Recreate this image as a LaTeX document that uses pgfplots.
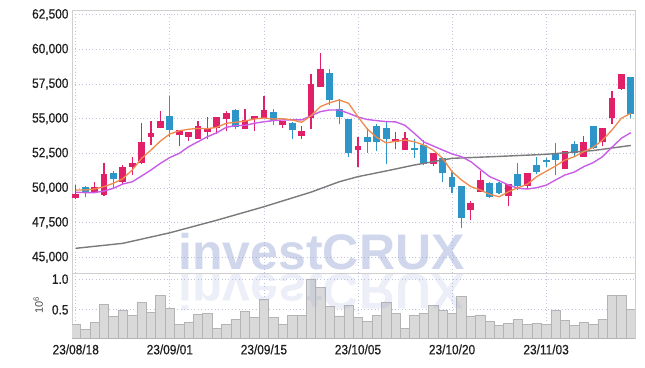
\documentclass[border=0pt]{standalone}
\usepackage{pgfplots}
\pgfplotsset{compat=1.18}
\usepackage{pgfplotstable}
\usepackage{fontspec}
\setmainfont{Liberation Sans}
\newfontfamily\tickfont{Liberation Sans}[FakeStretch=0.88, FakeBold=0.6]
\definecolor{cred}{HTML}{E2206A}
\definecolor{cblue}{HTML}{2E95C8}
\definecolor{corange}{HTML}{F08A4B}
\definecolor{cpurple}{HTML}{C95DE8}
\definecolor{cgray}{HTML}{7A7A7A}
\definecolor{gridc}{HTML}{BFC3DA}
\definecolor{framec}{HTML}{CFCFCF}
\definecolor{vfill}{HTML}{D9D9D9}
\definecolor{vdraw}{HTML}{B4B4B4}
\definecolor{wm}{HTML}{96A5D2}

% up candles: index open high low close
\pgfplotstableread{
i o h l c
0 49250 50250 49200 49550
2 49710 50410 49620 50000
3 49500 51780 49420 50940
5 50410 51660 50290 51490
6 51540 52210 50920 51800
7 51780 54710 51730 53250
8 53700 54860 53080 53920
9 54350 55580 54350 54760
11 53820 54180 53030 54110
12 53700 54020 53390 54020
13 53560 54830 53560 54400
14 54060 55100 53510 54310
15 54310 55050 53900 55050
16 54960 55580 54110 55340
18 54240 55680 54240 54830
19 55000 55170 54110 55170
20 55070 56640 55070 55560
22 54570 54860 54310 54780
24 53770 54500 53560 54040
25 55030 58200 54240 57430
26 57310 59760 57310 58510
30 52740 53700 51490 52980
34 53320 54060 52790 53510
35 52740 54060 52740 53540
38 51730 52500 51570 52500
42 48410 49080 47690 48850
43 49730 51250 49730 50510
46 49420 50270 48700 50270
48 50170 51010 49900 51010
52 51390 52650 51350 52600
54 52260 53730 52260 53250
56 53300 54310 53030 54260
57 55070 57000 54620 56420
58 57140 58220 57070 58150
}\up

% down candles: index open high low close
\pgfplotstableread{
i o h l c
1 50000 50140 49330 49620
4 51010 51250 49930 50650
10 55120 56620 53700 54180
17 55580 55680 54240 54380
21 55410 55700 54520 54810
23 54620 54760 53560 54180
27 58240 58600 55990 56330
28 55630 56400 54590 55150
29 54910 54910 52210 52550
31 53610 54310 52500 53320
32 54420 54620 52690 53340
33 54260 54740 51730 53540
36 52840 53510 52190 52760
37 53080 53460 51640 51710
39 52090 52260 50450 51100
40 50740 51180 49620 50090
41 50140 50140 47130 47860
44 50290 50410 49300 49370
45 50290 50450 49550 49660
47 50940 51780 49860 50140
49 51590 52260 50990 51180
50 51950 52190 51540 51900
51 52500 53230 50940 52040
53 53100 53390 52260 52500
55 54400 54400 52840 52890
59 57990 57990 55020 55330
}\down

% moving averages: a = 5-day, b = 10-day
\pgfplotstableread{
i a b
0 49856 49690
1 49856 49670
2 49930 49670
3 50100 49780
4 50340 49980
5 50670 50290
6 51300 50450
7 52140 50870
8 52740 51300
9 53390 51780
10 53900 52200
11 54130 52500
12 54240 52980
13 54300 53340
14 54280 53700
15 54380 53990
16 54670 54380
17 54740 54500
18 54830 54520
19 54980 54670
20 55050 54780
21 54980 54860
22 55000 54910
23 54910 54910
24 54740 54910
25 55200 55200
26 55870 55510
27 56150 55630
28 56350 55630
29 56110 55390
30 55140 55120
31 54250 54940
32 53650 54860
33 53250 54790
34 53370 54770
35 53460 54520
36 53340 53940
37 53100 53320
38 52740 53030
39 52140 52740
40 51180 52460
41 50580 52260
42 50100 51900
43 49860 51350
44 49550 50820
45 49370 50530
46 49730 50220
47 50020 49980
48 50270 49930
49 50820 50020
50 51200 50200
51 51590 50580
52 52020 50940
53 52260 51150
54 52620 51540
55 52940 51830
56 53460 52260
57 54180 52940
58 55030 53590
59 55390 53990
}\ma

% long moving average
\pgfplotstableread{
i m
0 45650
5 46010
10 46770
15 47680
20 48650
25 49700
28 50450
30 50820
33 51230
36 51660
40 52140
45 52280
50 52430
55 52700
59 53070
}\malong

% volume (millions)
\pgfplotstableread{
i v
0 0.267
1 0.186
2 0.300
3 0.593
4 0.386
5 0.495
6 0.414
7 0.625
8 0.462
9 0.739
10 0.527
11 0.267
12 0.300
13 0.430
14 0.446
15 0.200
16 0.267
17 0.337
18 0.479
19 0.370
20 0.674
21 0.370
22 0.256
23 0.414
24 0.414
25 1.005
26 0.870
27 0.549
28 0.402
29 0.576
30 0.370
31 0.316
32 0.414
33 0.625
34 0.435
35 0.200
36 0.414
37 0.446
38 0.576
39 0.484
40 0.435
41 0.723
42 0.402
43 0.418
44 0.316
45 0.239
46 0.283
47 0.348
48 0.267
49 0.283
50 0.267
51 0.495
52 0.332
53 0.239
54 0.300
55 0.256
56 0.348
57 0.739
58 0.739
59 0.511
}\vol

\pgfplotsset{
  candle/.style 2 args={only marks, mark=*, mark size=0pt, mark options={draw=none, fill=none}, forget plot,
    error bars/.cd, y dir=plus, y explicit, error mark=none,
    error bar style={line width=#1, draw=#2}}}

\begin{document}
\begin{tikzpicture}
\path[use as bounding box] (0,0) rectangle (645pt,367pt);
\pgfplotsset{every axis/.append style={
  scale only axis, xmin=-0.4, xmax=59.45, width=563pt, anchor=south west,
  axis line style={draw=framec, line width=0.9pt},
  grid style={gridc, dash pattern=on 0.8pt off 2.6pt, line width=0.8pt},
  major tick length=0pt, grid=major,
  tick label style={font=\tickfont\fontsize{13.5}{15}\selectfont, text=black!88},
  /pgf/number format/assume math mode=true,
  xtick={0,10,20,30,40,50}}}
\begin{axis}[at={(72pt,94pt)}, height=263pt,
  ymin=43870, ymax=62840,
  ytick={45000,47500,50000,52500,55000,57500,60000,62500},
  scaled y ticks=false, xticklabels={},
  yticklabel style={/pgf/number format/.cd, fixed, 1000 sep={,}}]
% wicks
\addplot[candle={1.2pt}{cred}]
  table[x=i, y=l, y error expr=\thisrow{h}-\thisrow{l}] {\up};
\addplot[candle={1.2pt}{cblue}]
  table[x=i, y=l, y error expr=\thisrow{h}-\thisrow{l}] {\down};
% bodies
\addplot[candle={6.8pt}{cred}]
  table[x=i, y=o, y error expr=\thisrow{c}-\thisrow{o}+40] {\up};
\addplot[candle={6.8pt}{cblue}]
  table[x=i, y=c, y error expr=\thisrow{o}-\thisrow{c}+40] {\down};
% moving averages
\addplot[cgray, line width=1.4pt] table[x=i, y=m] {\malong};
\addplot[cpurple, line width=1.4pt] table[x=i, y=b] {\ma};
\addplot[corange, line width=1.3pt] table[x=i, y=a] {\ma};
\end{axis}
\begin{axis}[at={(72pt,29pt)}, height=65pt,
  ymin=0.04, ymax=1.1, ytick={0.5,1.0}, yticklabels={0.5,1.0},
  xticklabels={23/08/18,23/09/01,23/09/15,23/10/05,23/10/20,23/11/03},
  xticklabel style={yshift=-3pt},
  ylabel={10\textsuperscript{6}},
  ylabel style={at={(axis description cs:-0.06,0.51)}, anchor=center,
    font=\fontsize{11}{13}\selectfont, text=black!70}]
\addplot[ybar, bar width=1, fill=vfill, draw=vdraw, line width=0.6pt] table[x=i, y=v] {\vol};
\end{axis}
\node[font=\fontsize{50}{50}\selectfont\bfseries, text=wm, text opacity=0.45, anchor=base, inner sep=0pt] at (321.5pt,97pt) {investCRUX};
\node[font=\fontsize{50}{50}\selectfont\bfseries, text=wm, text opacity=0.18, anchor=base, inner sep=0pt, yscale=-1] at (321.5pt,92pt) {investCRUX};
\end{tikzpicture}
\end{document}
